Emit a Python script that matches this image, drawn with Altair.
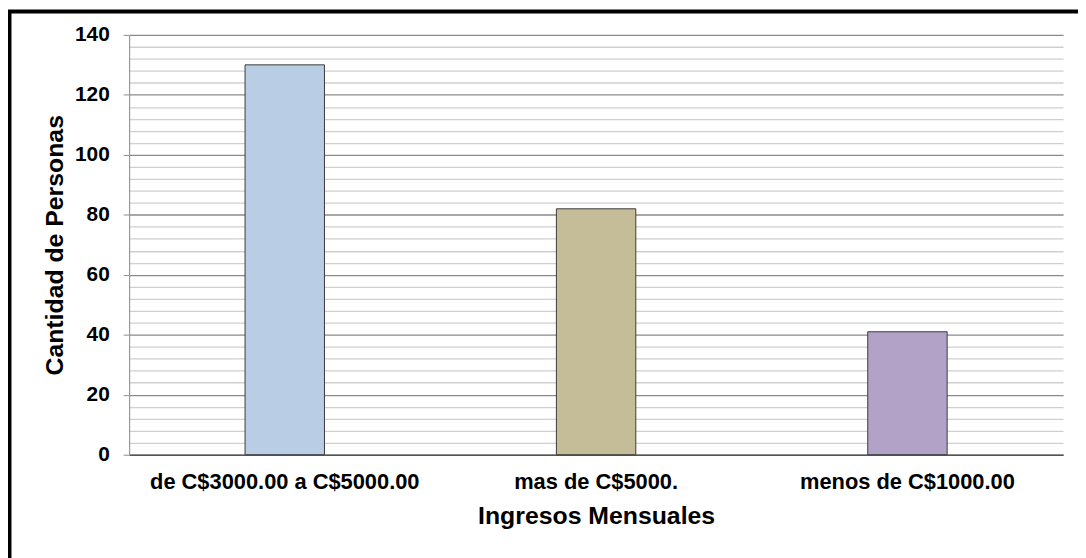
import altair as alt
import pandas as pd

categories = ["de C$3000.00 a C$5000.00", "mas de C$5000.", "menos de C$1000.00"]
values = [130, 82, 41]
colors = ["#B9CDE5", "#C4BD97", "#B2A2C7"]
y_ticks = list(range(0, 141, 4))

df = pd.DataFrame({"cat": categories, "val": values, "color": colors})
FONT = "Liberation Sans, Arial"

bars = alt.Chart(df).mark_bar(size=80, stroke="#3a3a3a", strokeWidth=1).encode(
    x=alt.X("cat:N", sort=categories,
            scale=alt.Scale(paddingInner=0, paddingOuter=0),
            axis=alt.Axis(title="Ingresos Mensuales", labelAngle=0, ticks=False,
                          domainColor="#555555", domainWidth=1.5,
                          labelFont=FONT, labelFontSize=22, labelFontWeight="bold",
                          labelColor="#000000", labelPadding=17, labelLimit=0,
                          titleFont=FONT, titleFontSize=25, titleFontWeight="bold",
                          titleColor="#000000", titlePadding=11)),
    y=alt.Y("val:Q", scale=alt.Scale(domain=[0, 140], nice=False),
            axis=alt.Axis(title="Cantidad de Personas", values=y_ticks,
                          labelExpr="datum.value % 20 === 0 ? datum.label : ''",
                          tickSize=6,
                          tickColor={"condition": {"test": "datum.value % 20 === 0", "value": "#8c8c8c"}, "value": "transparent"},
                          gridColor={"condition": {"test": "datum.value % 20 === 0", "value": "#8a8a8a"}, "value": "#cfcfcf"},
                          gridWidth=1.3,
                          domainColor="#9a9a9a", domainWidth=1.2,
                          labelFont=FONT, labelFontSize=21, labelFontWeight="bold",
                          labelColor="#000000", labelPadding=14,
                          titleFont=FONT, titleFontSize=25, titleFontWeight="bold",
                          titleColor="#000000", titlePadding=7)),
    fill=alt.Fill("color:N", scale=None, legend=None),
)

frame_df = pd.DataFrame({"a": [0]})
top_rule = alt.Chart(frame_df).mark_rule(color="#000000", strokeWidth=4).encode(
    x=alt.value(-125), x2=alt.value(960), y=alt.value(-23.5))
left_rule = alt.Chart(frame_df).mark_rule(color="#000000", strokeWidth=5).encode(
    x=alt.value(-121), y=alt.value(-25), y2=alt.value(530))

chart = alt.layer(bars, top_rule, left_rule).properties(
    width=941, height=423,
    autosize=alt.AutoSizeParams(type="none"),
    padding={"left": 122, "top": 25, "right": 15, "bottom": 102},
    background="#ffffff",
).configure_view(stroke=None)

chart.save("out.html", embed_options={"renderer": "svg", "actions": False})
